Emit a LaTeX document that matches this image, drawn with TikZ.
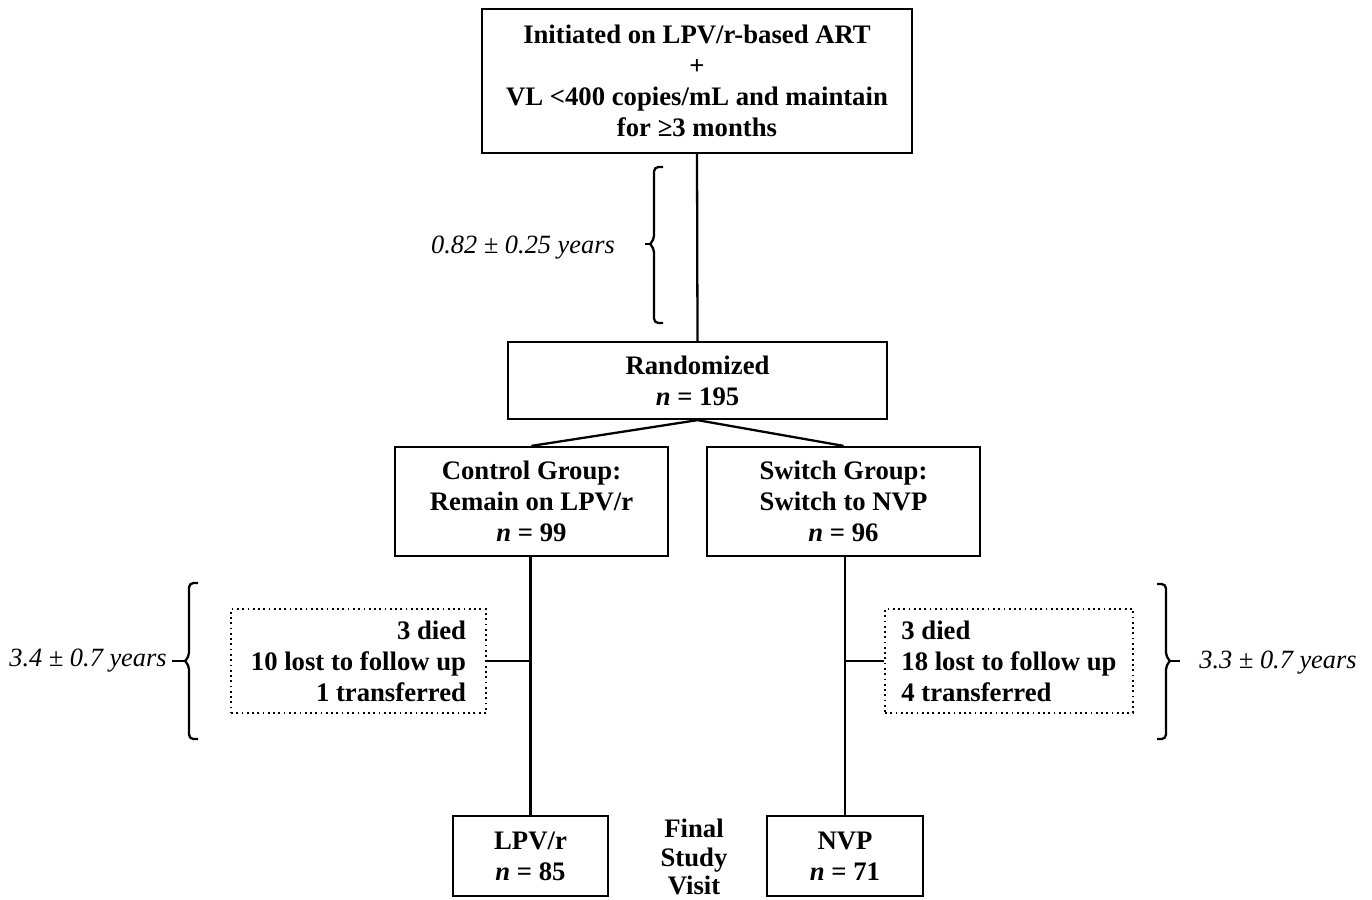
\documentclass[tikz,border=0pt]{standalone}
\usepackage{fontspec}
\setmainfont{Liberation Serif}
\begin{document}
\begin{tikzpicture}[x=0.02cm,y=-0.02cm,
  every node/.style={font=\fontsize{15.2}{17.6}\selectfont\bfseries},
  box/.style={draw, line width=1.3pt, inner sep=0pt, align=center},
  dotbox/.style={draw, dotted, line width=1pt, inner sep=0pt},
  conn/.style={line width=1.3pt},
  bracel/.style={line width=1.3pt, rounded corners=2.5pt},
  lbl/.style={font=\fontsize{15}{17.6}\selectfont\itshape}
]
\useasboundingbox (0,0) rectangle (1372,899);
\node[box, minimum width=8.6cm, minimum height=2.88cm] (top) at (697,81)
  {Initiated on LPV/r-based ART\\+\\VL {<}400 copies/mL and maintain\\for ≥3 months};
\node[box, minimum width=7.58cm, minimum height=1.54cm] (rand) at (697.5,380.5)
  {Randomized\\\textit{n} = 195};
\node[box, minimum width=5.46cm, minimum height=2.18cm] (ctrl) at (531.5,501.5)
  {Control Group:\\Remain on LPV/r\\\textit{n} = 99};
\node[box, minimum width=5.46cm, minimum height=2.18cm] (sw) at (843.5,501.5)
  {Switch Group:\\Switch to NVP\\\textit{n} = 96};
\node[dotbox, minimum width=5.1cm, minimum height=2.08cm, align=right] (dl) at (358.5,661)
  {3 died\\10 lost to follow up\\1 transferred};
\node[dotbox, minimum width=4.96cm, minimum height=2.08cm, align=left] (dr) at (1009,661)
  {3 died\\18 lost to follow up\\4 transferred};
\node[box, minimum width=3.1cm, minimum height=1.6cm] (lpv) at (530.5,856)
  {LPV/r\\\textit{n} = 85};
\node[box, minimum width=3.12cm, minimum height=1.6cm] (nvp) at (845,856)
  {NVP\\\textit{n} = 71};
\node[align=center, inner sep=0pt, font=\fontsize{15.2}{16}\selectfont\bfseries] (final) at (694,857) {Final\\Study\\Visit};

\draw[conn] (top.south) -- (rand.north);
\draw[conn] (rand.south) -- (ctrl.north);
\draw[conn] (rand.south) -- (sw.north);
\draw[conn] (lpv.north |- ctrl.south) -- (lpv.north);
\draw[conn] (nvp.north |- sw.south) -- (nvp.north);
\draw[conn] (dl.east) -- (dl.east -| lpv.north);
\draw[conn] (dr.west) -- (dr.west -| nvp.north);

% braces
\draw[bracel] (663,167) -- (654,167) -- (654,240) -- (650,244);
\draw[bracel] (650,244) -- (654,248) -- (654,323) -- (663,323);
\draw[conn] (652,244) -- (645,244);
\node[lbl] (t1) at (523,248) {0.82 ± 0.25 years};

\draw[bracel] (198,583) -- (189,583) -- (189,657) -- (185,661);
\draw[bracel] (185,661) -- (189,665) -- (189,739) -- (198,739);
\draw[conn] (187,661) -- (172,661);
\node[lbl] (t2) at (88,661) {3.4 ± 0.7 years};

\draw[bracel] (1157,584) -- (1166,584) -- (1166,657) -- (1170,661);
\draw[bracel] (1170,661) -- (1166,665) -- (1166,739) -- (1157,739);
\draw[conn] (1168,661) -- (1180,661);
\node[lbl] (t3) at (1278,663) {3.3 ± 0.7 years};
\end{tikzpicture}
\end{document}
